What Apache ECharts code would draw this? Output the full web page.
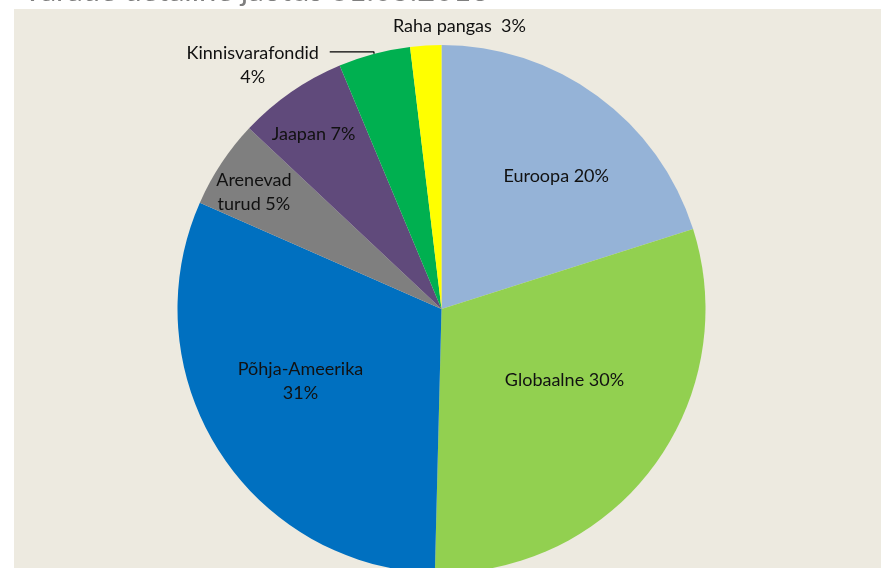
<!DOCTYPE html>
<html style="height: 100%">
<head>
    <meta charset="utf-8">
</head>
<body style="height: 100%; margin: 0; background: #fff">
<div id="container" style="width: 881px; height: 568px"></div>
<script type="text/javascript" src="https://cdn.jsdelivr.net/npm/echarts@6/dist/echarts.min.js"></script>
<script type="text/javascript">
    // slice names (as printed), drawn shares and printed percentages
    var names = ['Euroopa', 'Globaalne', 'Põhja-Ameerika', 'Arenevad turud', 'Jaapan', 'Kinnisvarafondid', 'Raha pangas'];
    var shares = [20.1, 30.3, 31.2, 5.4, 6.7, 4.4, 1.9];
    var printed = ['20%', '30%', '31%', '5%', '7%', '4%', '3%'];
    var colors = ['#95B3D7', '#92D050', '#0070C0', '#7F7F7F', '#604A7B', '#00B050', '#FFFF00'];

    // how each label is written ({p} = printed share)
    var labelText = [
        'Euroopa {p}',
        'Globaalne {p}',
        'Põhja-Ameerika\n{p}',
        'Arenevad\nturud {p}',
        'Jaapan {p}',
        'Kinnisvarafondid\n{p}',
        'Raha pangas  {p}'
    ];

    var dom = document.getElementById("container");
    var myChart = echarts.init(dom);

    // label nudges from the default inside spot
    var nudge = [[35, -24], [15, -10], [-27, 0], [-75, -42], [-51, -64], null, [26, -148]];

    var pieData = [];
    for (var i = 0; i < names.length; i++) {
        var txt = labelText[i].replace('{p}', printed[i]);
        var item = {
            name: names[i],
            value: shares[i],
            itemStyle: {color: colors[i]},
            label: {formatter: txt}
        };
        if (nudge[i]) {
            item.label.position = 'inside';
            item.label.offset = nudge[i];
        } else {
            // leader line label, lines centred under each other
            item.label.position = 'outside';
            item.label.formatter = txt.split('\n').map(function (s) {
                return '{c|' + s + '}';
            }).join('\n');
            item.label.rich = {c: {width: 140, align: 'center', fontSize: 18, lineHeight: 24, fontFamily: 'Lato', color: '#111'}};
            item.label.offset = [-2, 13];
            item.labelLine = {show: true, length: 2, length2: 44, smooth: false,
                lineStyle: {color: '#000', width: 1.3}};
        }
        pieData.push(item);
    }

    var option = {
        animation: false,
        backgroundColor: '#ffffff',
        title: {
            text: 'Varade detailne jaotus 31.05.2016',
            left: 17,
            top: -30,
            textStyle: {color: '#7F7F7F', fontSize: 31, fontWeight: 'normal', fontFamily: 'Lato'}
        },
        graphic: [{
            type: 'rect',
            left: 14,
            top: 9,
            z: -10,
            shape: {width: 867, height: 560},
            style: {fill: '#EDEAE0'}
        }],
        series: [{
            type: 'pie',
            center: [441.5, 309],
            radius: 264,
            startAngle: 90,
            clockwise: true,
            avoidLabelOverlap: false,
            label: {
                color: '#111',
                fontFamily: 'Lato',
                fontSize: 18,
                lineHeight: 24,
                align: 'center'
            },
            itemStyle: {borderWidth: 0},
            emphasis: {disabled: true},
            data: pieData
        }]
    };
    myChart.setOption(option, true);
</script>
</body>
</html>
